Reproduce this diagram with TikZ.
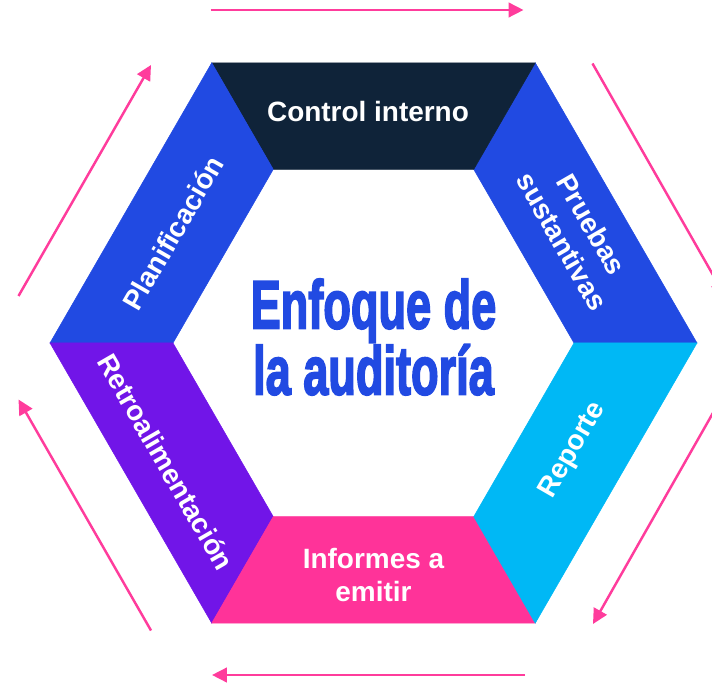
\documentclass[tikz,border=0pt]{standalone}
\usepackage{fontspec}
\setmainfont{Liberation Sans}
\newfontfamily\titlefont{Liberation Sans Bold}[FakeBold=3]
\usepackage{xcolor}
\usepackage{tikz}
\usetikzlibrary{calc, arrows.meta}
\definecolor{navyseg}{HTML}{0F2339}
\definecolor{blueseg}{HTML}{214AE2}
\definecolor{cyanseg}{HTML}{00B8F5}
\definecolor{pinkseg}{HTML}{FF3399}
\definecolor{purpleseg}{HTML}{7115E8}
\definecolor{flowpink}{HTML}{FF3C9C}
\tikzset{
  seglabel/.style={text=white, align=center, font=\bfseries\fontsize{15.9}{19.3}\selectfont},
  flow/.style={draw=flowpink, line width=1.4pt, -{Triangle[length=8.5pt,width=8.3pt]}}
}

\begin{document}
\begin{tikzpicture}
\useasboundingbox (-7.47,-6.80) rectangle (6.77,6.86);
\clip (-7.47,-6.80) rectangle (6.77,6.86);
\foreach \a in {0,60,...,300} {
  \coordinate (o\a) at (\a:6.47);
  \coordinate (i\a) at (\a:4.01);
}
\foreach \a/\b/\col in {0/60/blueseg, 60/120/navyseg, 120/180/blueseg,
                        180/240/purpleseg, 240/300/pinkseg, 300/0/cyanseg}
  \fill[\col, draw=\col, line width=0.3pt] (o\a) -- (o\b) -- (i\b) -- (i\a) -- cycle;
\node[seglabel] (control) at (-0.11,4.62) {Control interno};
\node[seglabel, rotate=60] (planif) at (-4.01,2.20) {Planificación};
\node[seglabel, rotate=-60] (pruebas) at (4.07,2.20) {Pruebas\\sustantivas};
\node[seglabel, rotate=60] (reporte) at (3.99,-2.14) {Reporte};
\node[seglabel] (informes) at (0,-4.64) {Informes a\\emitir};
\node[seglabel, rotate=-60] (retro) at (-4.15,-2.38) {Retroalimentación};
\node[text=blueseg, align=center, xscale=0.66,
      font=\titlefont\fontsize{38.9}{35.7}\selectfont] (enfoque) at (0,0.12) {Enfoque de\\la auditoría};
% flow arrows around the hexagon
\path coordinate (a) at (-3.26,6.66)
      coordinate (b) at (3.00,6.66)
      coordinate (c) at (4.38,5.59)
      coordinate (d) at (7.03,0.94)
      coordinate (e) at (7.05,-0.94)
      coordinate (f) at (4.39,-5.62)
      coordinate (g) at (3.03,-6.64)
      coordinate (h) at (-3.23,-6.64)
      coordinate (k) at (-4.45,-5.75)
      coordinate (l) at (-7.10,-1.13)
      coordinate (m) at (-7.10,0.94)
      coordinate (n) at (-4.45,5.56);
\draw[flow] (a) -- (b);
\draw[flow] (c) -- (d);
\draw[flow] (e) -- (f);
\draw[flow] (g) -- (h);
\draw[flow] (k) -- (l);
\draw[flow] (m) -- (n);
\end{tikzpicture}
\end{document}
